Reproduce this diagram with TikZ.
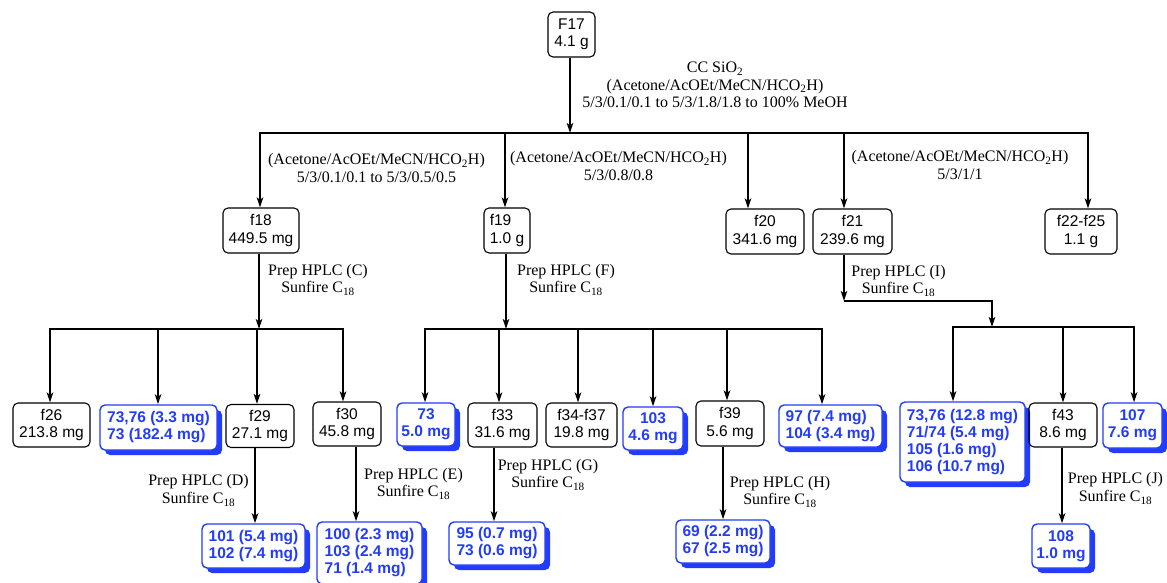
\documentclass[tikz,border=0pt]{standalone}
\usepackage{fontspec}
\setmainfont{Liberation Serif}
\newfontfamily\sansf{Liberation Sans}
\usetikzlibrary{arrows.meta,shadows}
\definecolor{cblue}{RGB}{35,60,250}
\begin{document}
\begin{tikzpicture}[x=1pt,y=-1pt,
  box/.style={draw, line width=1.1pt, rounded corners=5pt, font=\sansf\fontsize{15.5}{17.5}\selectfont, align=center, inner sep=0pt},
  bbox/.style={box, draw=cblue, text=cblue, fill=white, line width=1.4pt, font=\sansf\bfseries\fontsize{15.5}{17}\selectfont, drop shadow={shadow xshift=5pt, shadow yshift=-5pt, fill=cblue, opacity=1}},
  lbl/.style={font=\fontsize{16}{17.5}\selectfont, align=center, inner sep=0pt},
  ln/.style={line width=1.8pt, line cap=rect},
  arr/.style={line width=1.8pt, -{Stealth[length=10pt,width=6.5pt,inset=2.5pt]}}]
\useasboundingbox (0,0) rectangle (1167,583);

% ---- top
\node[box, minimum width=47pt, minimum height=45pt] (F17) at (571.5,34.5) {F17\\4.1 g};
\node[lbl] (cc) at (715,85) {CC SiO\textsubscript{2}\\(Acetone/AcOEt/MeCN/HCO\textsubscript{2}H)\\5/3/0.1/0.1 to 5/3/1.8/1.8 to 100\% MeOH};

\coordinate (m17) at (570,133);
\coordinate (mL) at (260,133);
\coordinate (m19) at (505,133);
\coordinate (m20) at (748,133);
\coordinate (m21) at (844,133);
\coordinate (mR) at (1088,133);

% ---- level 1
\node[box, minimum width=76pt, minimum height=45pt] (f18) at (261,230.5) {f18\\449.5 mg};
\node[box, align=left, minimum width=46pt, minimum height=45pt] (f19) at (507,230.5) {f19\\1.0 g};
\node[box, minimum width=78pt, minimum height=45pt] (f20) at (765,231.5) {f20\\341.6 mg};
\node[box, minimum width=79pt, minimum height=45pt] (f21) at (852.5,231.5) {f21\\239.6 mg};
\node[box, minimum width=72pt, minimum height=45pt] (f22) at (1081,231.5) {f22-f25\\1.1 g};

\node[lbl] (L18) at (376.5,168) {(Acetone/AcOEt/MeCN/HCO\textsubscript{2}H)\\5/3/0.1/0.1 to 5/3/0.5/0.5};
\node[lbl] (L19) at (618.5,166) {(Acetone/AcOEt/MeCN/HCO\textsubscript{2}H)\\5/3/0.8/0.8};
\node[lbl] (L21) at (960,165) {(Acetone/AcOEt/MeCN/HCO\textsubscript{2}H)\\5/3/1/1};

\draw[arr] (m17 |- F17.south) -- (m17);
\draw[ln] (mL) -- (mR);
\draw[arr] (mL) -- (mL |- f18.north);
\draw[arr] (m19) -- (m19 |- f19.north);
\draw[arr] (m20) -- (m20 |- f20.north);
\draw[arr] (m21) -- (m21 |- f21.north);
\draw[arr] (mR) -- (mR |- f22.north);

% ---- level 2 junctions
\coordinate (l18) at (259,329);
\coordinate (lL) at (50,329);
\coordinate (lB1) at (158,329);
\coordinate (l29) at (257,329);
\coordinate (lR) at (343,329);

\coordinate (n19) at (506,329);
\coordinate (nL) at (425,329);
\coordinate (n33) at (499,329);
\coordinate (n34) at (578,329);
\coordinate (nB3) at (653,329);
\coordinate (n39) at (727,329);
\coordinate (nR) at (822,329);

\coordinate (k1) at (844,301);
\coordinate (k2) at (992,301);
\coordinate (k3) at (992,327);
\coordinate (rL) at (953,327);
\coordinate (r43) at (1063,327);
\coordinate (rR) at (1134,327);

\node[lbl] (LC) at (318,280) {Prep HPLC (C)\\Sunfire C\textsubscript{18}};
\node[lbl] (LF) at (566,280) {Prep HPLC (F)\\Sunfire C\textsubscript{18}};
\node[lbl] (LI) at (898.5,281) {Prep HPLC (I)\\Sunfire C\textsubscript{18}};

\draw[arr] (f18.south -| l18) -- (l18);
\draw[arr] (f19.south -| n19) -- (n19);
\draw[arr] (f21.south -| k1) -- (k1);
\draw[arr] (k1) -- (k2) -- (k3);
\draw[ln] (lL) -- (lR);
\draw[ln] (nL) -- (nR);
\draw[ln] (rL) -- (rR);

% ---- level 2 nodes
\node[box, minimum width=77pt, minimum height=44pt] (f26) at (51.5,425) {f26\\213.8 mg};
\node[bbox, align=left, minimum width=117pt, minimum height=45pt] (B1) at (158.5,427.5) {73,76 (3.3 mg)\\73 (182.4 mg)};
\node[box, minimum width=68pt, minimum height=43pt] (f29) at (260,426) {f29\\27.1 mg};
\node[box, minimum width=68pt, minimum height=44pt] (f30) at (347,424) {f30\\45.8 mg};
\node[bbox, minimum width=58pt, minimum height=43pt] (B2) at (426,424.5) {73\\5.0 mg};
\node[box, minimum width=69pt, minimum height=44pt] (f33) at (502.5,425) {f33\\31.6 mg};
\node[box, minimum width=71pt, minimum height=44pt] (f34) at (581.5,425) {f34-f37\\19.8 mg};
\node[bbox, minimum width=60pt, minimum height=43pt] (B3) at (653,428.5) {103\\4.6 mg};
\node[box, minimum width=68pt, minimum height=45pt] (f39) at (730,423.5) {f39\\5.6 mg};
\node[bbox, align=left, minimum width=103pt, minimum height=42pt] (B4) at (830.5,426) {97 (7.4 mg)\\104 (3.4 mg)};
\node[bbox, align=left, minimum width=125pt, minimum height=80pt] (B5) at (962.5,442) {73,76 (12.8 mg)\\71/74 (5.4 mg)\\105 (1.6 mg)\\106 (10.7 mg)};
\node[box, minimum width=68pt, minimum height=44pt] (f43) at (1063,425) {f43\\8.6 mg};
\node[bbox, minimum width=59pt, minimum height=45pt] (B6) at (1132.5,425.5) {107\\7.6 mg};

\draw[arr] (lL) -- (lL |- f26.north);
\draw[arr] (lB1) -- (lB1 |- B1.north);
\draw[arr] (l29) -- (l29 |- f29.north);
\draw[arr] (lR) -- (lR |- f30.north);
\draw[arr] (nL) -- (nL |- B2.north);
\draw[arr] (n33) -- (n33 |- f33.north);
\draw[arr] (n34) -- (n34 |- f34.north);
\draw[arr] (nB3) -- (nB3 |- B3.north);
\draw[arr] (n39) -- (n39 |- f39.north);
\draw[arr] (nR) -- (nR |- B4.north);
\draw[arr] (rL) -- (rL |- B5.north);
\draw[arr] (r43) -- (r43 |- f43.north);
\draw[arr] (rR) -- (rR |- B6.north);

% ---- level 3
\node[bbox, align=left, minimum width=103pt, minimum height=44pt] (B7) at (253.5,546) {101 (5.4 mg)\\102 (7.4 mg)};
\node[bbox, align=left, minimum width=105pt, minimum height=62pt] (B8) at (369.5,553) {100 (2.3 mg)\\103 (2.4 mg)\\71 (1.4 mg)};
\node[bbox, align=left, minimum width=96pt, minimum height=43pt] (B9) at (497,543.5) {95 (0.7 mg)\\73 (0.6 mg)};
\node[bbox, align=left, minimum width=94pt, minimum height=43pt] (B10) at (723,541.5) {69 (2.2 mg)\\67 (2.5 mg)};
\node[bbox, minimum width=58pt, minimum height=44pt] (B11) at (1061,546) {108\\1.0 mg};

\node[lbl] (LD) at (198.5,490.5) {Prep HPLC (D)\\Sunfire C\textsubscript{18}};
\node[lbl] (LE) at (413.5,484) {Prep HPLC (E)\\Sunfire C\textsubscript{18}};
\node[lbl] (LG) at (548,475) {Prep HPLC (G)\\Sunfire C\textsubscript{18}};
\node[lbl] (LH) at (780,492) {Prep HPLC (H)\\Sunfire C\textsubscript{18}};
\node[lbl] (LJ) at (1115.5,488.5) {Prep HPLC (J)\\Sunfire C\textsubscript{18}};

\coordinate (x29) at (255,500);
\coordinate (x30) at (356,500);
\coordinate (x33) at (494,500);
\coordinate (x39) at (723,500);
\coordinate (x43) at (1062,500);
\draw[arr] (f29.south -| x29) -- (x29 |- B7.north);
\draw[arr] (f30.south -| x30) -- (x30 |- B8.north);
\draw[arr] (f33.south -| x33) -- (x33 |- B9.north);
\draw[arr] (f39.south -| x39) -- (x39 |- B10.north);
\draw[arr] (f43.south -| x43) -- (x43 |- B11.north);
\end{tikzpicture}
\end{document}
